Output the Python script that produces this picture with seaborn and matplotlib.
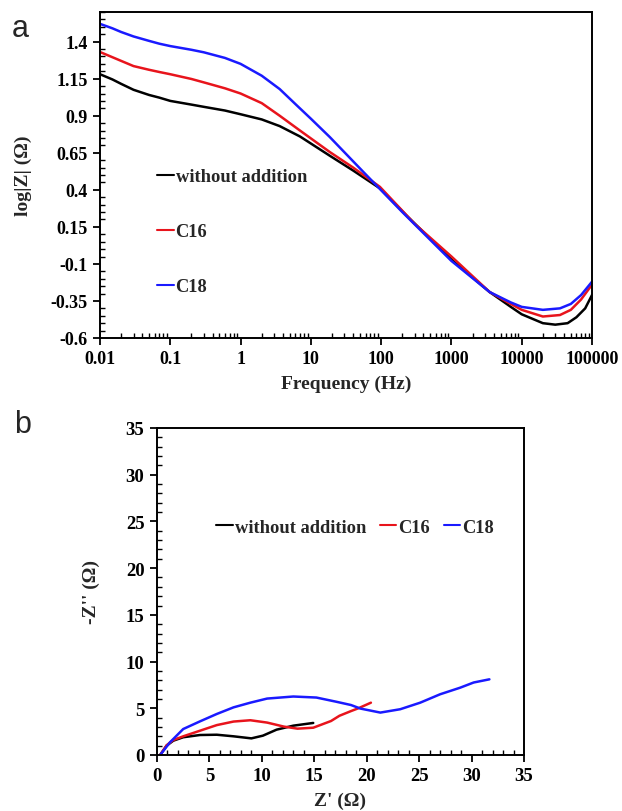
import numpy as np
import pandas as pd
import matplotlib
matplotlib.use("Agg")
import matplotlib.pyplot as plt
import seaborn as sns
from matplotlib.ticker import FixedLocator, MultipleLocator, LogLocator, NullFormatter

# ---- data: Bode (log|Z| vs frequency) ----
freq_black = [0.01, 0.015, 0.02, 0.03, 0.05, 0.07, 0.1, 0.2, 0.3, 0.6, 1, 2, 3.6, 7, 18.6, 40, 96, 230, 1000, 3500, 7000, 10000, 20000, 30000, 45000, 60000, 80000, 100000]
logz_black = [1.18, 1.145, 1.115, 1.075, 1.04, 1.022, 1.00, 0.975, 0.96, 0.935, 0.91, 0.875, 0.83, 0.76, 0.63, 0.53, 0.41, 0.226, -0.07, -0.29, -0.39, -0.44, -0.50, -0.51, -0.50, -0.46, -0.40, -0.31]

freq_c16 = [0.01, 0.015, 0.02, 0.03, 0.05, 0.07, 0.1, 0.2, 0.3, 0.6, 1, 2, 3.6, 7, 18.6, 40, 96, 300, 1000, 3500, 7000, 10000, 20000, 35000, 50000, 70000, 100000]
logz_c16 = [1.33, 1.295, 1.27, 1.235, 1.21, 1.195, 1.18, 1.148, 1.125, 1.085, 1.05, 0.985, 0.90, 0.80, 0.655, 0.55, 0.42, 0.17, -0.05, -0.29, -0.37, -0.41, -0.455, -0.445, -0.41, -0.34, -0.24]

freq_c18 = [0.01, 0.015, 0.02, 0.03, 0.05, 0.07, 0.1, 0.2, 0.3, 0.6, 1, 2, 3.6, 6.3, 10, 18.6, 56, 200, 1000, 3500, 7000, 10000, 20000, 35000, 50000, 70000, 100000]
logz_c18 = [1.52, 1.49, 1.465, 1.435, 1.405, 1.386, 1.37, 1.345, 1.328, 1.29, 1.25, 1.17, 1.08, 0.97, 0.88, 0.756, 0.52, 0.25, -0.08, -0.29, -0.36, -0.39, -0.41, -0.40, -0.37, -0.31, -0.22]

# ---- data: Nyquist ----
zre_black = [0.3, 0.92, 1.55, 2.5, 4.1, 5.7, 7.3, 9.0, 10.1, 11.4, 13.0, 14.9]
zim_black = [0.0, 1.0, 1.53, 1.9, 2.14, 2.17, 2.0, 1.78, 2.07, 2.71, 3.14, 3.43]

zre_c16 = [0.3, 0.92, 1.55, 2.5, 4.1, 5.7, 7.3, 8.9, 10.5, 12.1, 13.4, 14.9, 16.6, 17.4, 18.5, 19.2, 20.4]
zim_c16 = [0.0, 1.05, 1.6, 2.0, 2.6, 3.2, 3.58, 3.72, 3.47, 3.04, 2.82, 2.92, 3.64, 4.2, 4.7, 5.0, 5.6]

zre_c18 = [0.3, 1.24, 2.5, 4.1, 5.7, 7.3, 8.9, 10.5, 13.0, 15.2, 17.1, 18.5, 19.4, 21.3, 23.2, 25.1, 27.0, 28.9, 30.2, 31.7]
zim_c18 = [0.0, 1.36, 2.78, 3.6, 4.39, 5.1, 5.6, 6.04, 6.26, 6.15, 5.7, 5.35, 4.97, 4.54, 4.9, 5.6, 6.5, 7.2, 7.76, 8.1]

labels = ["without addition", "C16", "C18"]
colors = ["#000000", "#e8141c", "#1a1aff"]

top_yticks = [-0.6, -0.35, -0.1, 0.15, 0.4, 0.65, 0.9, 1.15, 1.4]
top_yticklabels = ["-0.6", "-0.35", "-0.1", "0.15", "0.4", "0.65", "0.9", "1.15", "1.4"]
top_xticks = [0.01, 0.1, 1, 10, 100, 1000, 10000, 100000]
top_xticklabels = ["0.01", "0.1", "1", "10", "100", "1000", "10000", "100000"]

sns.set_style("ticks")
plt.rcParams["font.family"] = ["Liberation Serif", "DejaVu Serif"]
plt.rcParams["font.weight"] = "bold"
plt.rcParams["axes.labelweight"] = "bold"

fig = plt.figure(figsize=(6.22, 8.12), dpi=100)
ax1 = fig.add_axes([100 / 622, 1 - 339 / 812, 492 / 622, 326 / 812])
ax2 = fig.add_axes([157 / 622, 1 - 756 / 812, 367 / 622, 327 / 812])

bode = pd.concat([
    pd.DataFrame({"f": freq_black, "z": logz_black, "s": labels[0]}),
    pd.DataFrame({"f": freq_c16, "z": logz_c16, "s": labels[1]}),
    pd.DataFrame({"f": freq_c18, "z": logz_c18, "s": labels[2]}),
])
nyq = pd.concat([
    pd.DataFrame({"x": zre_black, "y": zim_black, "s": labels[0]}),
    pd.DataFrame({"x": zre_c16, "y": zim_c16, "s": labels[1]}),
    pd.DataFrame({"x": zre_c18, "y": zim_c18, "s": labels[2]}),
])
pal = dict(zip(labels, colors))

sns.lineplot(data=bode, x="f", y="z", hue="s", palette=pal, hue_order=labels,
             ax=ax1, linewidth=1.8, sort=False, estimator=None)
sns.lineplot(data=nyq, x="x", y="y", hue="s", palette=pal, hue_order=labels,
             ax=ax2, linewidth=1.8, sort=False, estimator=None)

# ---- top axes ----
ax1.set_xscale("log")
ax1.set_xlim(0.01, 100000)
ax1.set_ylim(-0.6, 1.6)
ax1.xaxis.set_major_locator(FixedLocator(top_xticks))
ax1.set_xticklabels(top_xticklabels)
ax1.xaxis.set_minor_locator(LogLocator(base=10, subs=np.arange(2, 10), numticks=20))
ax1.xaxis.set_minor_formatter(NullFormatter())
ax1.set_yticks(top_yticks)
ax1.set_yticklabels(top_yticklabels)
ax1.yaxis.set_minor_locator(MultipleLocator(0.05))
ax1.set_xlabel("Frequency (Hz)", fontsize=14, fontweight="bold")
ax1.set_ylabel("log|Z| (Ω)", fontsize=14, fontweight="bold")
ax1.xaxis.set_label_coords(0.5, -0.113)
ax1.yaxis.set_label_coords(-0.138, 0.5)

# ---- bottom axes ----
ax2.set_xlim(0, 35)
ax2.set_ylim(0, 35)
ax2.xaxis.set_major_locator(MultipleLocator(5))
ax2.yaxis.set_major_locator(MultipleLocator(5))
ax2.xaxis.set_minor_locator(MultipleLocator(1))
ax2.yaxis.set_minor_locator(MultipleLocator(1))
ax2.set_xlabel("Z' (Ω)", fontsize=14, fontweight="bold")
ax2.set_ylabel("-Z'' (Ω)", fontsize=14, fontweight="bold")
ax2.xaxis.set_label_coords(0.5, -0.113)
ax2.yaxis.set_label_coords(-0.155, 0.5)

for ax, fs in ((ax1, 13), (ax2, 13.5)):
    for s in ax.spines.values():
        s.set_visible(True)
        s.set_linewidth(1.4)
        s.set_color("black")
    ax.tick_params(which="major", direction="out", length=5, width=1.3,
                   labelsize=fs, colors="black", pad=4)
    ax.tick_params(which="minor", direction="in", length=3.5, width=1.0, colors="black")
    for t in ax.get_xticklabels() + ax.get_yticklabels():
        t.set_fontweight("bold")

# ---- legends ----
leg1 = ax1.legend(loc="upper left", bbox_to_anchor=(0.116, 0.52), frameon=False,
                  handlelength=0.9, handletextpad=0.1, labelspacing=2.05,
                  borderpad=0, borderaxespad=0,
                  prop={"family": ["Liberation Serif"], "weight": "bold", "size": 13.3})
for h in leg1.get_lines():
    h.set_linewidth(1.5)

leg2 = ax2.legend(loc="upper left", bbox_to_anchor=(0.161, 0.722), frameon=False, ncol=3,
                  handlelength=0.9, handletextpad=0.1, columnspacing=0.75,
                  borderpad=0, borderaxespad=0,
                  prop={"family": ["Liberation Serif"], "weight": "bold", "size": 13.3})
for h in leg2.get_lines():
    h.set_linewidth(1.5)

# ---- panel labels ----
fig.text(12 / 622, 1 - 29 / 812, "a", fontsize=22, family=["Liberation Sans", "DejaVu Sans"],
         fontweight="normal", va="center", ha="left")
fig.text(14 / 622, 1 - 425 / 812, "b", fontsize=22, family=["Liberation Sans", "DejaVu Sans"],
         fontweight="normal", va="center", ha="left")

fig.savefig("out.png", dpi=100)
